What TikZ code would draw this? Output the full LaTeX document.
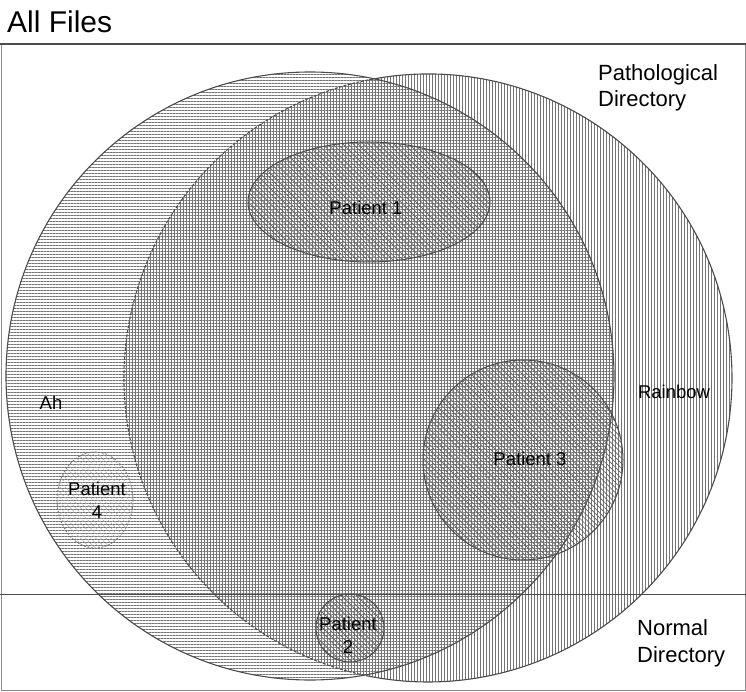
\documentclass[tikz,border=0pt]{standalone}
\usepackage{fontspec}
\setmainfont{Liberation Sans}
\usetikzlibrary{patterns.meta}

\begin{document}
\begin{tikzpicture}[x=1pt,y=-1pt,
  hlines/.style={pattern={Lines[angle=0,distance=3pt,line width=0.8pt]},pattern color=black!55},
  vlines/.style={pattern={Lines[angle=90,distance=3pt,line width=0.8pt]},pattern color=black!55},
  dlines/.style={pattern={Lines[angle=-45,distance=3.6pt,line width=0.7pt]},pattern color=black!60},
  faintd/.style={pattern={Lines[angle=-45,distance=3.6pt,line width=0.5pt]},pattern color=black!35},
  setline/.style={draw=black!70,line width=1.1pt},
  patline/.style={draw=black!70,line width=1pt},
  rule/.style={draw=black!70,line width=1.4pt},
  border/.style={draw=black!45,line width=0.8pt},
  biglabel/.style={font=\fontsize{30}{35}\selectfont,anchor=west,inner sep=0pt},
  dirlabel/.style={font=\fontsize{22}{26.5}\selectfont,align=left,anchor=west,inner sep=0pt},
  setlabel/.style={font=\fontsize{18.5}{22}\selectfont,inner sep=0pt},
  patlabel/.style={font=\fontsize{18.5}{23}\selectfont,align=center,inner sep=0pt}]

\useasboundingbox (0,0) rectangle (746,692);

% hatched sets: Ah (horizontal) and Rainbow (vertical)
\fill[hlines] (310,376) circle[radius=304];
\fill[vlines] (428,378) circle[radius=304];

% set outlines; Rainbow's edge is dashed where it runs inside Ah
\draw[setline] (310,376) circle[radius=304];
\draw[setline] ([shift={(-101.2:304)}]428,378) arc[start angle=-101.2,end angle=101.2,radius=304];
\draw[setline,dash pattern=on 3pt off 1.5pt] ([shift={(101.2:304)}]428,378) arc[start angle=101.2,end angle=258.8,radius=304];

% patients
\filldraw[dlines,patline] (369,202) ellipse[x radius=121,y radius=60];
\filldraw[dlines,patline] (523,460) circle[radius=100];
\filldraw[dlines,patline] (350,628) circle[radius=34];
\filldraw[faintd,draw=black!55,line width=0.8pt,dash pattern=on 2pt off 1.5pt] (95,500) ellipse[x radius=38,y radius=48];

% frame and directory divider
\draw[border] (1,44) -- (1,690.5) -- (745,690.5) -- (745,44);
\draw[rule] (0,44) -- (746,44);
\draw[rule] (0,594.5) -- (746,594.5);

% labels
\node[biglabel] (allfiles) at (7,22) {All Files};
\node[dirlabel] (pathdir) at (598,88) {Pathological\\Directory};
\node[dirlabel] (normdir) at (637,643.5) {Normal\\Directory};
\node[setlabel] (ah) at (51,403) {Ah};
\node[setlabel] (rainbow) at (674,392) {Rainbow};
\node[setlabel] (p1) at (366,208) {Patient 1};
\node[setlabel] (p3) at (530,459) {Patient 3};
\node[patlabel] (p2) at (348,635) {Patient\\2};
\node[patlabel] (p4) at (97,500) {Patient\\4};
\end{tikzpicture}
\end{document}
